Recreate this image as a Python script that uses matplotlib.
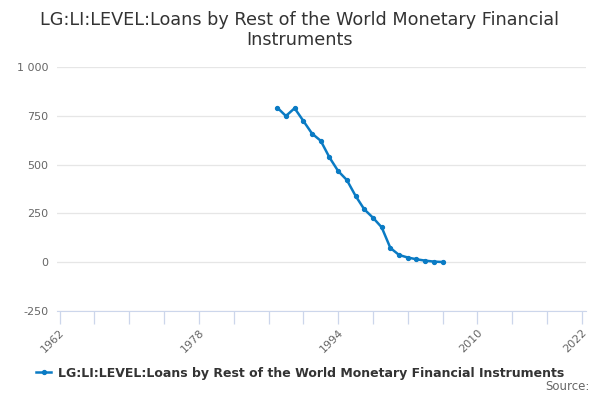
import numpy as np
import matplotlib.pyplot as plt

years = list(range(1987, 2007))
values = [792, 749, 789, 724, 659, 622, 537, 467, 421, 340,
          271, 228, 179, 73, 37, 24, 15, 8, 3, 1]

title = 'LG:LI:LEVEL:Loans by Rest of the World Monetary Financial Instruments'
yticks = [-250, 0, 250, 500, 750, 1000]
ytick_labels = ['-250', '0', '250', '500', '750', '1 000']
xticks = list(range(1962, 2023, 4))
xlabels_shown = [1962, 1978, 1994, 2010, 2022]

fig = plt.figure(figsize=(6, 4), dpi=100)
ax = fig.add_axes([0.095, 0.2225, 0.882, 0.61])

ax.plot(years, values, color='#0a7bc4', lw=1.8, marker='o', ms=2.8,
        label=title, zorder=3)

ax.set_ylim(-250, 1000)
ax.set_yticks(yticks)
ax.set_yticklabels(ytick_labels)
ax.grid(axis='y', color='#e6e6e6', lw=0.9)
ax.tick_params(axis='y', length=0, pad=6, labelsize=8, labelcolor='#666666')

ax.set_xlim(1961.7, 2022.5)
ax.set_xticks(xticks)
ax.set_xticklabels([str(x) if x in xlabels_shown else '' for x in xticks])
ax.tick_params(axis='x', length=9, color='#ccd6eb', width=0.9, pad=3,
               labelsize=8, labelcolor='#666666')
plt.setp(ax.get_xticklabels(), rotation=45, ha='right', rotation_mode='anchor')

for s in ['top', 'right', 'left']:
    ax.spines[s].set_visible(False)
ax.spines['bottom'].set_color('#ccd6eb')

# title split over two lines like the original
fig.text(0.5, 0.95, 'LG:LI:LEVEL:Loans by Rest of the World Monetary Financial',
         ha='center', va='center', fontsize=12.7, color='#333333')
fig.text(0.5, 0.90, 'Instruments', ha='center', va='center', fontsize=12.7, color='#333333')

leg = fig.legend(loc='center', bbox_to_anchor=(0.5, 0.067), frameon=False,
                 fontsize=9, handlelength=1.2, handletextpad=0.5)
for t in leg.get_texts():
    t.set_color('#333333')
    t.set_fontweight('bold')

fig.text(0.982, 0.018, 'Source:', ha='right', va='bottom', fontsize=8.5, color='#666666')

fig.savefig('out.png', dpi=100)
